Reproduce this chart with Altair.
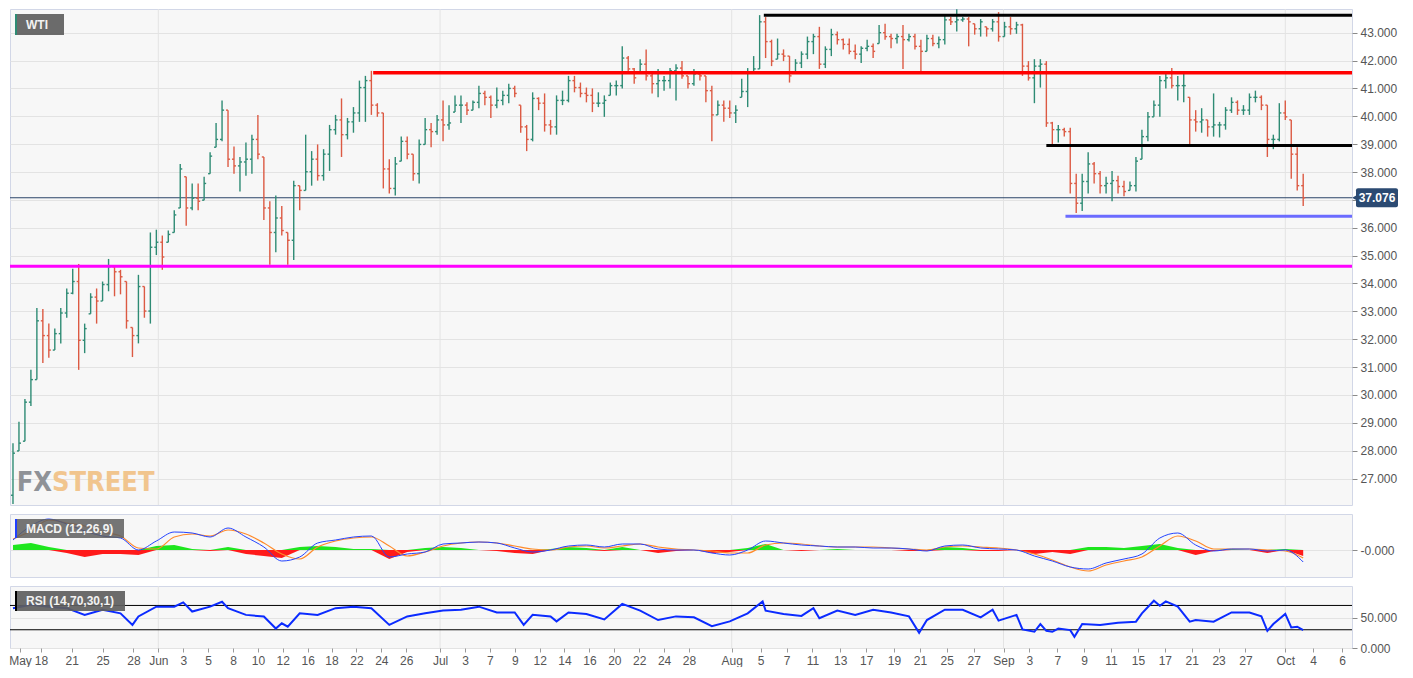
import json
import altair as alt
import pandas as pd

# ---------------- price bars (WTI) ----------------
first_open = 26.40
high = [
    28.27, 29.04, 29.85, 30.90, 33.12, 33.08, 32.56, 32.38, 33.12, 33.82,
    34.53, 34.70, 32.56, 33.65, 33.82, 34.07, 34.88, 34.60, 34.49, 34.07,
    32.42, 34.31, 33.89, 35.83, 35.93, 35.72, 35.90, 36.63, 38.29, 37.83,
    37.59, 37.59, 37.83, 38.71, 39.76, 40.57, 40.22, 38.92, 38.54, 39.06,
    39.34, 40.05, 38.54, 36.95, 37.16, 36.78, 35.83, 37.69, 37.51, 39.34,
    38.75, 38.99, 38.82, 39.69, 40.05, 40.64, 39.94, 40.33, 41.28, 41.45,
    41.63, 40.47, 40.12, 38.46, 38.54, 39.27, 39.27, 38.64, 39.17, 39.94,
    39.76, 40.05, 40.57, 40.40, 40.75, 40.75, 40.50, 40.57, 41.10, 40.92,
    40.75, 41.03, 40.92, 41.17, 41.10, 40.40, 39.69, 40.86, 40.68, 40.82,
    39.87, 40.75, 40.92, 41.45, 41.45, 41.21, 41.03, 41.00, 40.86, 40.75,
    41.21, 41.28, 42.51, 42.16, 41.73, 42.05, 42.40, 41.56, 41.70, 41.45,
    41.73, 41.87, 41.98, 41.45, 41.70, 41.56, 41.45, 41.10, 40.57, 40.57,
    40.57, 40.40, 41.35, 41.73, 42.16, 43.63, 43.56, 42.75, 42.79, 42.40,
    42.16, 42.05, 42.33, 42.86, 42.96, 43.21, 42.51, 43.14, 43.04, 42.79,
    42.79, 42.58, 42.51, 42.75, 42.61, 43.28, 43.32, 42.96, 42.96, 43.28,
    42.96, 42.96, 42.75, 42.93, 42.93, 42.86, 43.63, 43.56, 43.84, 43.56,
    43.56, 43.32, 43.49, 43.21, 43.49, 43.74, 43.39, 43.56, 43.39, 43.32,
    41.98, 42.05, 42.05, 41.98, 39.80, 39.69, 39.59, 39.59, 37.94, 37.94,
    38.71, 38.36, 38.04, 37.83, 38.04, 37.87, 37.69, 37.66, 38.54, 39.52,
    40.15, 40.57, 41.45, 41.52, 41.73, 41.45, 41.52, 40.68, 40.22, 40.29,
    39.87, 40.82, 39.80, 40.33, 40.68, 40.57, 40.40, 40.82, 40.92, 40.75,
    40.40, 39.34, 40.47, 40.57, 39.87, 38.89, 37.94]
low = [
    26.09, 27.99, 28.34, 29.60, 30.55, 31.15, 31.33, 31.61, 31.85, 32.77,
    33.61, 30.90, 31.50, 32.91, 32.56, 33.37, 33.72, 33.54, 33.61, 32.38,
    31.36, 31.85, 32.77, 32.56, 35.02, 34.49, 35.48, 35.83, 36.71, 36.07,
    36.63, 36.63, 36.99, 37.94, 38.89, 39.10, 38.18, 37.94, 37.30, 37.87,
    37.94, 38.46, 36.28, 34.67, 35.12, 35.72, 34.67, 34.84, 36.63, 37.34,
    37.51, 37.69, 37.69, 38.04, 39.34, 38.54, 39.17, 39.41, 39.80, 39.80,
    40.05, 39.98, 37.41, 37.23, 37.16, 38.39, 38.46, 37.69, 37.59, 38.99,
    38.89, 39.34, 39.10, 39.52, 40.15, 39.76, 40.05, 40.22, 40.29, 40.40,
    39.94, 40.29, 40.40, 40.47, 40.68, 39.41, 38.75, 39.10, 40.22, 39.45,
    39.34, 39.34, 40.40, 40.50, 40.86, 40.68, 40.50, 40.15, 40.33, 39.98,
    40.75, 40.75, 41.00, 41.56, 41.17, 41.56, 41.28, 40.82, 40.68, 40.92,
    41.00, 40.57, 41.35, 41.00, 41.10, 41.28, 40.50, 39.10, 40.05, 39.80,
    39.94, 39.76, 40.68, 40.33, 41.56, 41.70, 42.09, 41.80, 42.05, 41.98,
    41.21, 41.56, 41.73, 42.05, 42.23, 41.70, 41.73, 42.16, 42.58, 42.40,
    42.23, 42.05, 41.91, 42.33, 42.09, 42.61, 42.75, 42.44, 42.61, 41.70,
    42.68, 42.40, 41.56, 42.33, 42.51, 42.44, 42.58, 43.28, 43.04, 43.39,
    42.51, 42.93, 42.86, 42.86, 43.04, 42.68, 42.86, 42.93, 42.96, 41.45,
    41.28, 40.47, 41.03, 39.62, 38.92, 39.06, 39.27, 37.23, 36.53, 36.60,
    37.23, 37.59, 37.23, 37.23, 36.95, 37.23, 37.13, 37.34, 37.30, 38.46,
    39.10, 39.98, 39.98, 41.00, 41.00, 40.57, 40.50, 38.99, 39.45, 39.41,
    39.27, 39.27, 39.24, 39.52, 40.12, 40.05, 40.05, 40.05, 40.50, 40.22,
    38.54, 38.82, 39.10, 39.87, 37.76, 37.34, 36.78]
close = [
    27.91, 28.27, 29.74, 30.55, 32.66, 32.13, 31.61, 32.20, 32.94, 33.65,
    34.07, 31.96, 32.38, 33.51, 33.37, 33.96, 34.60, 34.42, 34.24, 32.66,
    32.13, 33.89, 33.01, 35.30, 35.48, 34.95, 35.76, 36.46, 38.11, 36.71,
    37.06, 36.95, 37.59, 38.57, 39.17, 40.22, 38.46, 38.22, 38.36, 38.46,
    39.17, 38.64, 36.71, 35.83, 36.35, 35.90, 35.55, 37.51, 37.34, 38.01,
    38.46, 37.87, 38.64, 39.52, 39.87, 39.34, 39.80, 40.12, 41.03, 41.28,
    40.40, 40.12, 38.11, 37.41, 38.29, 39.10, 38.64, 37.94, 38.99, 39.52,
    39.45, 39.87, 39.69, 39.76, 40.40, 40.40, 40.22, 40.50, 40.82, 40.68,
    40.40, 40.57, 40.75, 41.00, 40.82, 39.62, 39.17, 40.64, 40.47, 39.69,
    39.62, 40.57, 40.57, 41.28, 41.03, 40.82, 40.75, 40.47, 40.47, 40.57,
    41.10, 41.10, 42.09, 41.70, 41.38, 41.87, 41.45, 41.17, 41.28, 41.28,
    41.63, 41.73, 41.45, 41.17, 41.52, 41.45, 40.92, 40.05, 40.40, 40.29,
    40.12, 40.22, 40.89, 41.59, 41.70, 43.39, 42.68, 41.98, 42.23, 42.16,
    41.45, 41.91, 42.23, 42.68, 42.86, 41.87, 42.40, 42.93, 42.75, 42.58,
    42.33, 42.23, 42.44, 42.51, 42.33, 43.00, 42.86, 42.79, 42.86, 42.75,
    42.86, 42.51, 42.33, 42.79, 42.61, 42.75, 43.46, 43.39, 43.46, 43.49,
    43.39, 43.14, 43.39, 43.14, 43.39, 42.86, 43.21, 43.14, 43.28, 41.80,
    41.38, 41.80, 41.87, 39.76, 39.52, 39.52, 39.45, 37.59, 36.88, 37.66,
    38.29, 37.94, 37.51, 37.59, 37.69, 37.48, 37.30, 37.51, 38.39, 39.27,
    39.98, 40.40, 41.28, 41.38, 41.10, 41.10, 41.10, 39.87, 39.80, 39.87,
    39.62, 39.69, 39.69, 40.22, 40.50, 40.22, 40.22, 40.68, 40.68, 40.40,
    39.17, 39.17, 40.12, 39.98, 38.64, 37.51, 37.076]
last_price = 37.076

# ---------------- MACD (12,26,9), one sample every 3 bars ----------------
macd_step = 3
macd_line = [
    0.25, 0.6, 0.775, 0.65, 0.475, 0.35, 0.3, 0.0, 0.225, 0.45,
    0.425, 0.325, 0.55, 0.325, 0.075, -0.275, -0.175, 0.175, 0.25, 0.325,
    0.35, -0.175, -0.1, -0.05, 0.15, 0.175, 0.2, 0.175, 0.05, -0.05,
    0.0, 0.1, 0.125, 0.075, 0.15, 0.15, 0.025, 0.0, 0.0, -0.075,
    -0.125, 0.0, 0.225, 0.175, 0.125, 0.1, 0.075, 0.075, 0.05, 0.05,
    0.025, -0.025, 0.1, 0.125, 0.05, 0.025, 0.0, -0.15, -0.275, -0.425,
    -0.475, -0.325, -0.225, -0.1, 0.3, 0.425, 0.125, -0.025, 0.025, 0.025,
    -0.025, 0.0, -0.3]
macd_signal = [
    0.275, 0.475, 0.75, 0.675, 0.6, 0.45, 0.35, 0.05, 0.025, 0.325,
    0.4, 0.35, 0.5, 0.4, 0.175, -0.1, -0.225, 0.075, 0.225, 0.3,
    0.325, 0.1, -0.15, -0.05, 0.1, 0.175, 0.2, 0.175, 0.1, 0.025,
    0.0, 0.075, 0.1, 0.05, 0.1, 0.15, 0.075, 0.025, 0.0, -0.025,
    -0.075, -0.075, 0.125, 0.175, 0.15, 0.1, 0.075, 0.075, 0.075, 0.05,
    0.025, 0.0, 0.075, 0.1, 0.075, 0.05, 0.0, -0.1, -0.25, -0.425,
    -0.525, -0.375, -0.275, -0.175, 0.1, 0.35, 0.225, 0.025, 0.025, 0.025,
    0.0, -0.025, -0.2]
macd_hist = [
    0.125, 0.175, 0.075, -0.075, -0.175, -0.1, -0.1, -0.125, 0.1, 0.125,
    0.025, -0.025, 0.075, -0.1, -0.15, -0.2, 0.075, 0.1, 0.075, 0.025,
    0.025, -0.225, -0.05, 0.05, 0.075, 0.05, 0.0, -0.025, -0.075, -0.1,
    0.025, 0.075, 0.05, -0.025, 0.075, 0.0, -0.075, -0.025, 0.0, -0.075,
    -0.05, 0.05, 0.15, 0.0, -0.025, 0.0, 0.025, 0.0, 0.0, 0.0,
    -0.025, -0.025, 0.075, 0.05, -0.025, -0.025, 0.0, -0.1, -0.05, -0.1,
    0.075, 0.075, 0.05, 0.1, 0.15, 0.05, -0.125, -0.025, 0.025, 0.0,
    -0.075, 0.025, -0.15]

# ---------------- RSI (14,70,30,1) ----------------
rsi_bar = [0, 3, 6, 9, 12, 15, 18, 20, 21, 24, 27, 28.5, 30, 33, 35, 36, 39, 42, 44, 45,
           46, 48, 51, 54, 57, 60, 63, 66, 69, 72, 75, 78, 81, 84, 85.5, 87, 90, 91, 93, 96,
           99, 102, 105, 108, 111, 114, 117, 120, 123, 125.5, 126, 129, 132, 134, 135, 138,
           141, 144, 147, 150, 151.7, 153, 156, 159, 162, 164, 165, 168, 169, 171, 172, 173,
           174, 175, 177, 177.7, 179, 182, 185, 188, 189, 191, 192, 193, 195, 197, 198, 201,
           204, 207, 209, 210, 211, 213, 214, 215, 216]
rsi_val = [65.5, 71, 68, 65.5, 54.5, 63, 57, 38, 52, 68, 68, 75, 60, 68, 76, 65.5, 54.5, 51.7, 32, 40.6,
           35, 57, 54.5, 65.5, 68, 65.5, 38, 52, 57, 61.5, 63, 68, 58.5, 58.5, 38, 54.5, 52, 43.8, 58.5, 56,
           47, 72.5, 61.5, 46, 52, 50.5, 36, 43.8, 57, 76.7, 61.5, 56, 52.8, 65.5, 49, 61.5,
           54.5, 63, 58.5, 52, 25, 46, 63, 63, 50.5, 63, 45, 54.5, 30.5, 26.7, 39.4, 28.3,
           26.7, 32, 29.4, 18.3, 39.4, 37.8, 41.7, 43.3, 57, 77.8, 69.4, 76.7, 68, 43.3, 46, 43.3,
           58.5, 58.5, 52, 28.3, 39.4, 56, 33.9, 35, 29.4]
rsi_upper, rsi_lower = 70, 30

# ---------------- drawn levels ----------------
level_price = [43.63, 41.56, 38.95, 36.41, 34.62]
level_start_bar = [125.7, 60.3, 173.0, 176.2, -0.5]
level_styles = [("#000000", 3), ("#ff0000", 3.5), ("#000000", 3), ("#6b6bff", 3), ("#ff00ff", 3)]

# ---------------- x axis (bar-index units) ----------------
tick_vals = [1.67, 5.17, 10.33, 15.5, 20.67, 24.83, 29.0, 33.17, 37.33, 41.5, 45.67, 49.83, 53.83,
             58.0, 62.17, 66.33, 72.0, 76.17, 80.33, 84.5, 88.67, 92.83, 97.0, 101.17, 105.33,
             109.5, 113.67, 120.83, 125.67, 130.0, 134.33, 139.0, 143.33, 148.0, 152.33, 156.83,
             161.33, 166.33, 170.67, 175.33, 179.83, 184.33, 188.83, 193.33, 197.83, 202.33,
             206.83, 213.5, 218.17, 223.0]
tick_labels = ["May", "18", "21", "25", "28", "Jun", "3", "5", "8", "10", "12", "16", "18", "22",
               "24", "26", "Jul", "3", "7", "9", "12", "14", "16", "20", "22", "24", "28", "Aug",
               "5", "7", "11", "13", "17", "19", "21", "25", "27", "Sep", "3", "7", "9", "11", "15",
               "17", "21", "23", "27", "Oct", "4", "6"]
month_vals = [24.83, 72.0, 120.83, 166.33, 213.5]

# ---------------- layout / style ----------------
W = 1342
XMAX = 224.67
H_MAIN, H_MACD, H_RSI = 496, 63, 62
GREEN, RED = "#2e8b74", "#dc5a43"
FONT = "Liberation Sans"
WM_FONT = "DejaVu Sans Condensed, Liberation Sans Narrow, Liberation Sans, sans-serif"
GRID = "#e3e3e3"

xs = alt.Scale(domain=[0, XMAX], nice=False, zero=False)
ys_main = alt.Scale(domain=[26.05, 43.85], nice=False, zero=False)
ys_macd = alt.Scale(domain=[-0.675, 0.9], nice=False, zero=False)
ys_rsi = alt.Scale(domain=[0, 102], nice=False, zero=False)


def X(field):
    return alt.X(field, type="quantitative", scale=xs, axis=None)


def yaxis(**kw):
    return alt.Axis(orient="right", grid=True, gridColor=GRID, domain=False, tickColor="#8a8a8a",
                    tickSize=5, labelColor="#555555", labelFontSize=12, labelFont=FONT,
                    labelPadding=3, title=None, **kw)


def month_grid():
    return alt.Chart(pd.DataFrame({"m": month_vals})).mark_rule(color=GRID, strokeWidth=1).encode(
        x=X("m"))


def badge(text, x1, x2, y1, y2, accent, opacity=0.92):
    d = pd.DataFrame({"t": [text]})
    box = alt.Chart(d).mark_rect(color="#5e5e5e", opacity=opacity).encode(
        x=alt.value(x1), x2=alt.value(x2), y=alt.value(y1), y2=alt.value(y2))
    acc = alt.Chart(d).mark_rect(color=accent).encode(
        x=alt.value(x1), x2=alt.value(x1 + 2), y=alt.value(y1), y2=alt.value(y2))
    txt = alt.Chart(d).mark_text(color="#f2f2f2", fontWeight="bold", fontSize=12, font=FONT,
                                 align="left", baseline="middle").encode(
        x=alt.value(x1 + 11), y=alt.value((y1 + y2) / 2), text="t:N")
    return [box, acc, txt]


# ---------------- main price panel ----------------
opens = []
prev = first_open
for h, l, c in zip(high, low, close):
    opens.append(min(max(prev, l), h))
    prev = c
bars = pd.DataFrame({"bar": list(range(len(close))), "open": opens, "high": high,
                     "low": low, "close": close})
bb = alt.Chart(bars).transform_calculate(
    x="datum.bar + 0.5", xo="datum.bar + 0.16", xc="datum.bar + 0.84")
col = alt.condition("datum.close >= datum.open", alt.value(GREEN), alt.value(RED))
main_axis = yaxis(values=list(range(27, 44)),
                  labelExpr="datum.value == 37 ? '' : format(datum.value, '.3f')")
wick = bb.mark_rule(strokeWidth=1.4).encode(
    x=X("x"), y=alt.Y("low:Q", scale=ys_main, axis=main_axis), y2="high:Q", color=col)
otick = bb.mark_rule(strokeWidth=1.4).encode(
    x=X("xo"), x2="x:Q", y=alt.Y("open:Q", scale=ys_main, axis=None), color=col)
ctick = bb.mark_rule(strokeWidth=1.4).encode(
    x=X("x"), x2="xc:Q", y=alt.Y("close:Q", scale=ys_main, axis=None), color=col)

levels = []
lv = pd.DataFrame({"price": level_price, "start": level_start_bar})
for i, (c, w) in enumerate(level_styles):
    levels.append(
        alt.Chart(lv.iloc[[i]]).transform_calculate(xs="datum.start + 0.5", xe=str(XMAX))
        .mark_rule(color=c, strokeWidth=w)
        .encode(x=X("xs"), x2="xe:Q", y=alt.Y("price:Q", scale=ys_main, axis=None)))

lp = pd.DataFrame({"p": [last_price]})
price_line = alt.Chart(lp).mark_rule(color="#2b4468", strokeWidth=1).encode(
    y=alt.Y("p:Q", scale=ys_main, axis=None))
pb = alt.Chart(lp).transform_calculate(
    top="datum.p + 0.34", bot="datum.p - 0.34", lab="format(datum.p, '.3f')")
pbox = pb.mark_rect(color="#2b4a72", cornerRadius=2).encode(
    x=alt.value(W + 4), x2=alt.value(W + 46), y=alt.Y("top:Q", scale=ys_main, axis=None), y2="bot:Q")
parrow = pb.mark_point(shape="triangle-left", filled=True, size=45, color="#2b4a72", opacity=1).encode(
    x=alt.value(W + 3), y=alt.Y("p:Q", scale=ys_main, axis=None))
ptext = pb.mark_text(color="white", fontWeight="bold", fontSize=12, font=FONT, align="center",
                     baseline="middle").encode(
    x=alt.value(W + 25), y=alt.Y("p:Q", scale=ys_main, axis=None), text="lab:N")

wm = pd.DataFrame({"a": ["FX"], "b": ["STREET"]})
fx = alt.Chart(wm).mark_text(font=WM_FONT, fontSize=27, fontWeight="bold",
                             color="#8f9297", align="right", baseline="alphabetic").encode(
    x=alt.value(42), y=alt.value(482), text="a:N")
street = alt.Chart(wm).mark_text(font=WM_FONT, fontSize=27, fontWeight="bold",
                                 color="#f1c58e", align="left", baseline="alphabetic").encode(
    x=alt.value(42), y=alt.value(482), text="b:N")

main = alt.layer(
    month_grid(), fx, street, price_line, wick, otick, ctick, *levels, pbox, parrow, ptext,
    *badge("WTI", 5, 54, 5, 26, GREEN)
).resolve_axis(x="independent", y="independent").properties(width=W, height=H_MAIN)

# ---------------- MACD panel ----------------
md = pd.DataFrame({"bar": [macd_step * j for j in range(len(macd_line))],
                   "m": macd_line, "s": macd_signal, "h": macd_hist})
mb = alt.Chart(md).transform_calculate(
    x="datum.bar + 0.5", hp="max(datum.h, 0)", hn="min(datum.h, 0)", z="0")
macd_axis = yaxis(values=[0], labelExpr="'-0.000'")
hpos = mb.mark_area(color="#1ee61e", interpolate="linear").encode(
    x=X("x"), y=alt.Y("hp:Q", scale=ys_macd, axis=macd_axis), y2="z:Q")
hneg = mb.mark_area(color="#ff1a1a", interpolate="linear").encode(
    x=X("x"), y=alt.Y("hn:Q", scale=ys_macd, axis=None), y2="z:Q")
sig = mb.mark_line(color="#ff8a2a", strokeWidth=1.2, interpolate="monotone").encode(
    x=X("x"), y=alt.Y("s:Q", scale=ys_macd, axis=None))
mline = mb.mark_line(color="#2343ff", strokeWidth=1, interpolate="monotone").encode(
    x=X("x"), y=alt.Y("m:Q", scale=ys_macd, axis=None))
macd = alt.layer(month_grid(), hpos, hneg, sig, mline,
                 *badge("MACD (12,26,9)", 5, 114, 5, 24, "#1f3fff", 0.85)
                 ).resolve_axis(x="independent", y="independent").properties(width=W, height=H_MACD)

# ---------------- RSI panel ----------------
label_expr = f"{json.dumps(tick_labels)}[indexof({json.dumps(tick_vals)}, datum.value)]"
x_axis = alt.Axis(orient="bottom", values=tick_vals, labelExpr=label_expr, labelOverlap=False,
                  labelFlush=False, grid=False, domain=False, tickSize=4, tickColor="#9a9a9a",
                  labelColor="#555555", labelFontSize=12, labelFont=FONT, labelPadding=3,
                  title=None)
rd = pd.DataFrame({"bar": rsi_bar, "v": rsi_val})
rsi_line = alt.Chart(rd).transform_calculate(x="datum.bar + 0.5").mark_line(
    color="#0b2bff", strokeWidth=2).encode(
    x=alt.X("x:Q", scale=xs, axis=x_axis),
    y=alt.Y("v:Q", scale=ys_rsi, axis=yaxis(values=[0, 50], format=".3f")))
bands = alt.Chart(pd.DataFrame({"v": [rsi_upper, rsi_lower]})).mark_rule(
    color="#000000", strokeWidth=1).encode(y=alt.Y("v:Q", scale=ys_rsi, axis=None))
rsi = alt.layer(month_grid(), bands, rsi_line,
                *badge("RSI (14,70,30,1)", 5, 115, 5, 25, "#000000")
                ).resolve_axis(x="independent", y="independent").properties(width=W, height=H_RSI)

chart = alt.vconcat(main, macd, rsi, spacing=9, bounds="flush").properties(
    padding=0, background="#ffffff"
).configure_view(fill="#f7f7f7", stroke="#d2d7e7", strokeWidth=1)

chart.save("out.html", embed_options={"renderer": "svg", "actions": False})
